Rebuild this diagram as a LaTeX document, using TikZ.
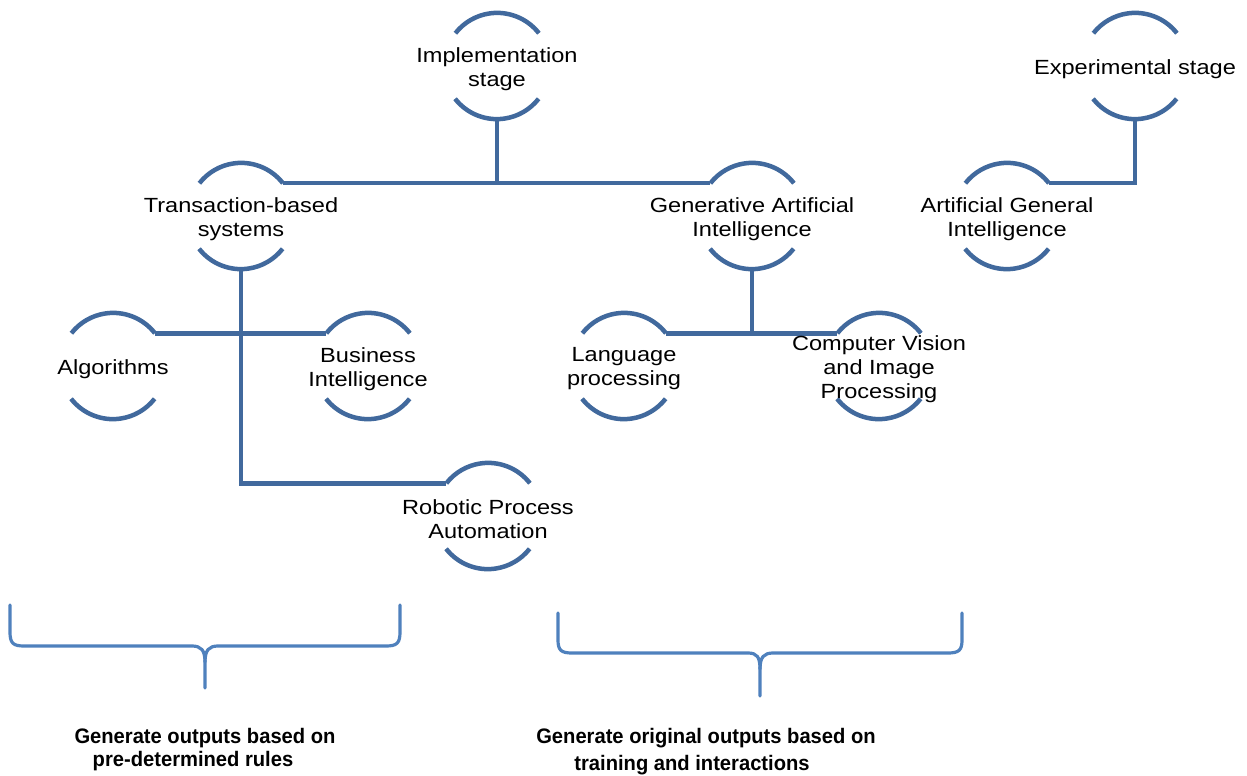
\documentclass[tikz,border=0pt]{standalone}
\usepackage{fontspec}
\setmainfont{Liberation Sans}
\newfontfamily\lblfont[FakeStretch=1.15]{Liberation Sans}
\newfontfamily\capfont[FakeStretch=0.96]{Liberation Sans}
\usetikzlibrary{backgrounds}
\definecolor{arcblue}{RGB}{65,105,157}
\definecolor{braceblue}{RGB}{79,129,189}
\newcommand\ringarcs[1]{%
  \draw[arcs] (#1.38) arc[start angle=38,end angle=142,radius=53pt];
  \draw[arcs] (#1.218) arc[start angle=218,end angle=322,radius=53pt];}
\begin{document}
\begin{tikzpicture}[x=1pt,y=-1pt,
  hub/.style={circle, minimum size=106pt, inner sep=0pt},
  hubtext/.style={align=center, inner sep=0pt, yshift=-3pt,
    font=\lblfont\fontsize{20.5}{24}\selectfont, text=black},
  arcs/.style={draw=arcblue, line width=4.5pt},
  link/.style={draw=arcblue, line width=4.5pt},
  brace/.style={draw=braceblue, line width=3.2pt, line cap=round},
  captext/.style={font=\capfont\bfseries\fontsize{21}{23}\selectfont, inner sep=0pt, anchor=base}]
\useasboundingbox (0,0) rectangle (1247,776);

% nodes
\node[hub, label={[hubtext]center:{Implementation\\stage}}] (imp) at (497,66) {};
\node[hub, label={[hubtext]center:{Experimental stage}}] (exp) at (1135,66) {};
\node[hub, label={[hubtext]center:{Transaction-based\\systems}}] (trans) at (241,216) {};
\node[hub, label={[hubtext]center:{Generative Artificial\\Intelligence}}] (gen) at (752,216) {};
\node[hub, label={[hubtext]center:{Artificial General\\Intelligence}}] (agi) at (1007,216) {};
\node[hub, label={[hubtext]center:{Algorithms}}] (alg) at (113,366) {};
\node[hub, label={[hubtext]center:{Business\\Intelligence}}] (bi) at (368,366) {};
\node[hub, label={[hubtext]center:{Language\\processing}}] (lang) at (624,366) {};
\node[hub, label={[hubtext]center:{Computer Vision\\and Image\\Processing}}] (cv) at (879,366) {};
\node[hub, label={[hubtext]center:{Robotic Process\\Automation}}] (rpa) at (488,516) {};

\begin{pgfonlayer}{background}
\fill[white] (0,0) rectangle (1247,776);
\foreach \n in {imp,exp,trans,gen,agi,alg,bi,lang,cv,rpa}{\ringarcs{\n}}
% connectors
\draw[link] (trans.38) -- (gen.142);
\draw[link] (imp.south) -- (imp.south |- trans.38);
\draw[link] (exp.south) |- (agi.38);
\draw[link] (trans.south) |- (rpa.142);
\draw[link] (alg.38) -- (bi.142);
\draw[link] (gen.south) -- (gen.south |- lang.38);
\draw[link] (lang.38) -- (cv.142);
\end{pgfonlayer}

% braces
\draw[brace] (10,605) -- (10,632) .. controls (10,643) and (13,646) .. (24,646)
  -- (192,646) .. controls (201,646) and (205,650) .. (205,662) -- (205,688);
\draw[brace] (205,662) .. controls (205,650) and (209,646) .. (218,646)
  -- (386,646) .. controls (397,646) and (400,643) .. (400,632) -- (400,605);
\draw[brace] (558,613) -- (558,640) .. controls (558,650) and (561,653) .. (572,653)
  -- (748,653) .. controls (757,653) and (760,657) .. (760,669) -- (760,696);
\draw[brace] (760,669) .. controls (760,657) and (764,653) .. (773,653)
  -- (948,653) .. controls (959,653) and (962,650) .. (962,640) -- (962,613);

% captions
\node[captext] (capLa) at (205,743) {Generate outputs based on};
\node[captext] (capLb) at (193,766) {pre-determined rules};
\node[captext] (capRa) at (706,743) {Generate original outputs based on};
\node[captext] (capRb) at (692,770) {training and interactions};
\end{tikzpicture}
\end{document}
